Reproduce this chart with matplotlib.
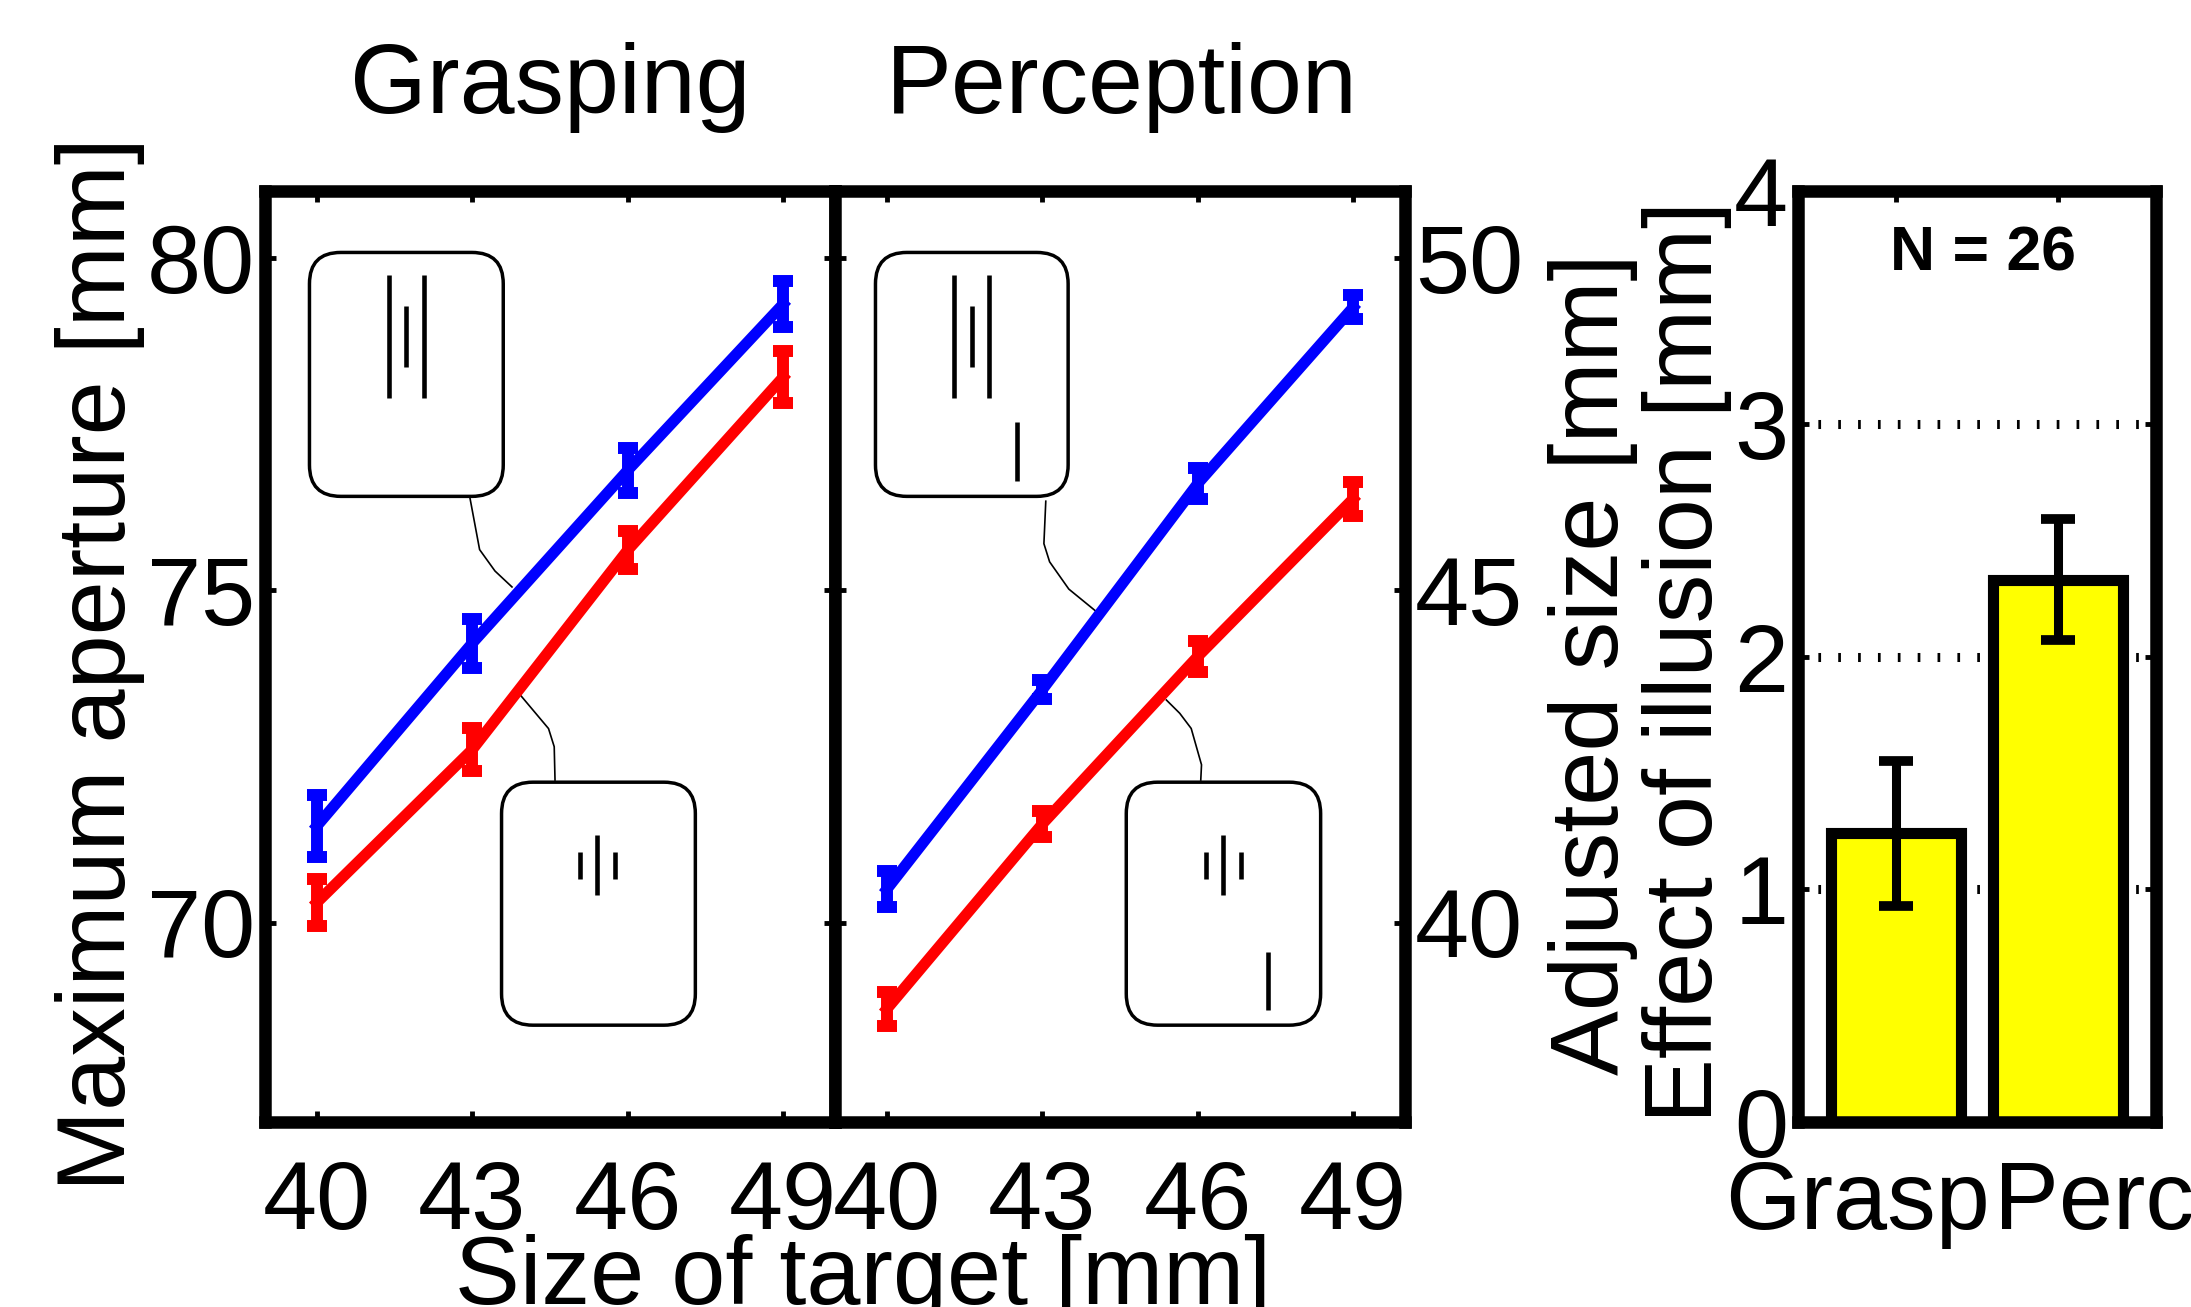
import matplotlib
matplotlib.use('Agg')
import matplotlib.pyplot as plt
from matplotlib.patches import FancyBboxPatch
from matplotlib.transforms import ScaledTranslation

plt.rcParams['font.family'] = ['Liberation Sans', 'DejaVu Sans']

# Dados: tamanho do alvo e medias com erro
target_sizes = [40, 43, 46, 49]

grasp_blue = [71.45, 74.2, 76.8, 79.3]
grasp_blue_err = [0.46, 0.37, 0.34, 0.34]
grasp_red = [70.3, 72.6, 75.6, 78.2]
grasp_red_err = [0.36, 0.32, 0.29, 0.39]

perc_blue = [40.5, 43.5, 46.6, 49.25]
perc_blue_err = [0.27, 0.14, 0.23, 0.18]
perc_red = [38.7, 41.48, 44.0, 46.37]
perc_red_err = [0.26, 0.19, 0.23, 0.26]

effect_labels = ['Grasp', 'Perc']
effect_values = [1.24, 2.33]
effect_err = [0.31, 0.26]
n_subjects = 26

W, H = 2191, 1307
FS = 70

fig = plt.figure(figsize=(W / 100, H / 100), dpi=100)

# posicoes dos eixos (pixels -> fracoes)
top, bottom = 191, 1122
ax1 = fig.add_axes([265 / W, 1 - bottom / H, 570 / W, (bottom - top) / H])
ax2 = fig.add_axes([835 / W, 1 - bottom / H, 570 / W, (bottom - top) / H])
ax3 = fig.add_axes([1798 / W, 1 - bottom / H, 358 / W, (bottom - top) / H])


def style(ax):
    for s in ax.spines.values():
        s.set_linewidth(9)
    ax.tick_params(direction='in', length=8, width=3.5, labelsize=FS,
                   top=True, right=True)
    ax.tick_params(axis='x', pad=26.5)
    ax.tick_params(axis='y', pad=7)


def line_panel(ax, blue, blue_err, red, red_err):
    ax.errorbar(target_sizes, blue, yerr=blue_err, color='blue', lw=8,
                elinewidth=8.6, capsize=7.5, capthick=8.6, zorder=3)
    ax.errorbar(target_sizes, red, yerr=red_err, color='red', lw=8,
                elinewidth=8.6, capsize=7.5, capthick=8.6, zorder=3)
    ax.set_xlim(39, 50)
    ax.set_xticks(target_sizes)
    style(ax)


def callout(ax, box, strokes, leader):
    # caixinha arredondada com o estimulo desenhado dentro
    x0, y0, w, h = box
    p = FancyBboxPatch((x0, y0), w, h,
                       boxstyle='round,pad=0,rounding_size=0.055',
                       mutation_aspect=570 / 931, transform=ax.transAxes,
                       fc='white', ec='black', lw=2.5, zorder=2)
    ax.add_patch(p)
    for x, ya, yb in strokes:
        ax.plot([x, x], [ya, yb], color='black', lw=3.3,
                solid_capstyle='butt', transform=ax.transAxes, zorder=2)
    xs, ys = zip(*leader)
    ax.plot(xs, ys, color='black', lw=1.2, transform=ax.transAxes, zorder=2)


# Grasping
line_panel(ax1, grasp_blue, grasp_blue_err, grasp_red, grasp_red_err)
ax1.set_ylim(67, 81)
ax1.set_yticks([70, 75, 80])
callout(ax1, (0.078, 0.672, 0.340, 0.262),
        [(0.2167, 0.7774, 0.9096), (0.2474, 0.8113, 0.8764), (0.2789, 0.7774, 0.9096)],
        [(0.3596, 0.6702), (0.3765, 0.6148), (0.4035, 0.5918), (0.4333, 0.5747)])
callout(ax1, (0.415, 0.104, 0.340, 0.261),
        [(0.5526, 0.2612, 0.2905), (0.5833, 0.2436, 0.3088), (0.6149, 0.2612, 0.2905)],
        [(0.5088, 0.3673), (0.5074, 0.4031), (0.4974, 0.4226), (0.4705, 0.4422), (0.4437, 0.4617)])

# Perception
line_panel(ax2, perc_blue, perc_blue_err, perc_red, perc_red_err)
ax2.set_ylim(37, 51)
ax2.set_yticks([40, 45, 50])
ax2.tick_params(labelleft=False, labelright=True)
callout(ax2, (0.071, 0.672, 0.338, 0.262),
        [(0.2088, 0.7774, 0.9096), (0.2395, 0.8113, 0.8764), (0.2702, 0.7774, 0.9096),
         (0.3193, 0.6883, 0.7515)],
        [(0.3698, 0.6668), (0.3665, 0.6212), (0.3765, 0.6017), (0.4102, 0.5724), (0.4584, 0.5483)])
callout(ax2, (0.511, 0.104, 0.341, 0.261),
        [(0.6505, 0.2612, 0.2905), (0.6807, 0.2436, 0.3088), (0.7123, 0.2612, 0.2905),
         (0.7605, 0.1200, 0.1831)],
        [(0.6417, 0.3673), (0.6430, 0.3837), (0.6249, 0.4227), (0.6048, 0.4390), (0.5813, 0.4533)])

# Efeito da ilusao (barras)
pos = [1, 2]
ax3.bar(pos, effect_values, width=0.8, color='yellow', edgecolor='black',
        linewidth=8, zorder=2)
ax3.errorbar(pos, effect_values, yerr=effect_err, fmt='none', ecolor='black',
             elinewidth=6.5, capsize=12, capthick=7, zorder=3)
ax3.set_xlim(0.4, 2.6)
ax3.set_ylim(0, 4)
ax3.set_yticks([0, 1, 2, 3, 4])
ax3.set_xticks(pos)
ax3.set_xticklabels(effect_labels)
# grade pontilhada: tracinhos verticais curtos
ax3.yaxis.grid(True, color='black', lw=6.5, linestyle=(0, (0.3, 1.9)))
ax3.set_axisbelow(True)
style(ax3)
for lab, dx in zip(ax3.get_xticklabels(), [-38, 36]):
    lab.set_transform(lab.get_transform() + ScaledTranslation(dx / 100, 0, fig.dpi_scale_trans))
ax3.text(1.537, 3.66, f'N = {n_subjects}', ha='center', va='baseline',
         fontsize=45, fontweight='bold', zorder=4)

# Titulos e rotulos
fig.text(550 / W, 1 - 113 / H, 'Grasping', ha='center', va='baseline', fontsize=71)
fig.text(1122 / W, 1 - 113 / H, 'Perception', ha='center', va='baseline', fontsize=71)
fig.text(863 / W, 1 - 1304 / H, 'Size of target [mm]', ha='center', va='baseline', fontsize=FS)
fig.text(100.5 / W, 1 - 664 / H, 'Maximum aperture [mm]', rotation=90,
         ha='center', va='center', fontsize=FS)
fig.text(1592.6 / W, 1 - 664 / H, 'Adjusted size [mm]', rotation=90,
         ha='center', va='center', fontsize=FS)
fig.text(1686.5 / W, 1 - 662 / H, 'Effect of illusion [mm]', rotation=90,
         ha='center', va='center', fontsize=FS)

fig.savefig('out.png', dpi=100)
